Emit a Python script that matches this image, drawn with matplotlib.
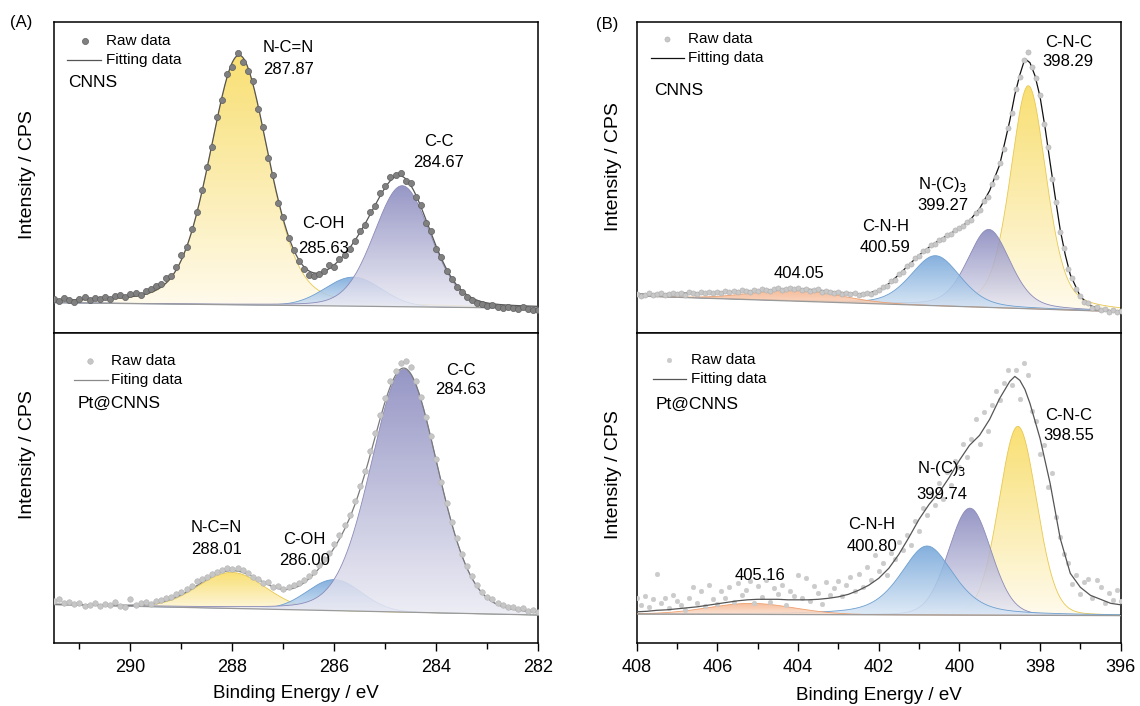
import numpy as np
import matplotlib
matplotlib.use("Agg")
import matplotlib.pyplot as plt
from matplotlib.colors import LinearSegmentedColormap

plt.rcParams['font.family'] = ['Liberation Sans', 'DejaVu Sans']

W, H = 1140, 706
fig = plt.figure(figsize=(W/100, H/100), dpi=100)

def ax_rect(x0, x1, ytop, ybot):
    return [x0/W, 1-ybot/H, (x1-x0)/W, (ybot-ytop)/H]

COLORS = {
    'yellow': ('#f8da5a', '#fffaea', '#e8c850'),
    'purple': ('#8484bc', '#ebebf4', '#8a8ab8'),
    'blue':   ('#6ea2d8', '#dbe8f6', '#6d9fd0'),
    'orange': ('#f4b088', '#fce6d6', '#f0a070'),
}

# ======================= DATA =======================
# --- C 1s, CNNS (panel A top) ---
c1s_cnns_bg = [30.0, 24.4]            # background at 291.5 eV and 282 eV
c1s_cnns_centers = [287.87, 285.63, 284.67]
c1s_cnns_heights = [249, 29, 121]
c1s_cnns_fwhm = [1.35, 1.3, 1.3]
c1s_cnns_eta = [0.28, 0.0, 0.15]
c1s_cnns_colors = ['yellow', 'blue', 'purple']
c1s_cnns_raw_start, c1s_cnns_raw_step = 291.5, -0.1
c1s_cnns_raw = [34, 32, 35, 33, 31, 34, 36, 33, 35, 34,
                36, 34, 37, 38, 36, 39, 40, 38, 42, 44,
                47, 49, 55, 57, 66, 78, 86, 104, 121, 143,
                166, 186, 216, 233, 259, 266, 280, 271, 262, 252,
                224, 206, 175, 158, 130, 116, 95, 83, 72, 64,
                58, 57, 59, 62, 68, 66, 74, 78, 84, 92,
                102, 108, 121, 127, 140, 147, 156, 158, 160, 152,
                150, 136, 128, 110, 102, 84, 76, 62, 54, 46,
                41, 36, 33, 30, 29, 27, 28, 26, 25, 26,
                25, 24, 26, 24, 23, 23]

# --- C 1s, Pt@CNNS (panel A bottom) ---
c1s_pt_bg = [38.7, 28.3]
c1s_pt_centers = [288.01, 286.00, 284.63]
c1s_pt_heights = [36, 31, 243]
c1s_pt_fwhm = [1.55, 1.25, 1.54]
c1s_pt_eta = [0.0, 0.0, 0.15]
c1s_pt_colors = ['yellow', 'blue', 'purple']
c1s_pt_raw_start, c1s_pt_raw_step = 291.5, -0.1
c1s_pt_raw = [42, 44, 40, 41, 39, 40, 37, 38, 40, 37,
              39, 38, 41, 37, 36, 44, 38, 40, 41, 39,
              42, 43, 45, 46, 49, 51, 54, 57, 62, 64,
              66, 69, 71, 73, 75, 74, 75, 73, 70, 66,
              64, 60, 61, 56, 57, 54, 56, 58, 60, 63,
              67, 71, 78, 84, 90, 99, 108, 118, 128, 142,
              157, 172, 192, 210, 228, 245, 262, 272, 280, 282,
              276, 262, 246, 226, 207, 184, 161, 140, 121, 105,
              89, 77, 67, 58, 51, 46, 44, 40, 38, 36,
              36, 34, 35, 32, 33, 31]

# --- N 1s, CNNS (panel B top) ---
n1s_cnns_bg = [36.7, 21.0]            # background at 408 eV and 396 eV
n1s_cnns_centers = [398.29, 399.27, 400.59, 404.05]
n1s_cnns_heights = [223, 78, 50, 11]
n1s_cnns_fwhm = [1.05, 1.25, 1.45, 2.6]
n1s_cnns_eta = [0.35, 0.3, 0.3, 0.0]
n1s_cnns_colors = ['yellow', 'purple', 'blue', 'orange']
n1s_cnns_fit_be = [408.0, 407.75, 407.5, 407.25, 407.0, 406.75, 406.5, 406.25, 406.0, 405.75,
                   405.5, 405.25, 405.0, 404.75, 404.5, 404.25, 404.0, 403.75, 403.5, 403.25,
                   403.0, 402.75, 402.5, 402.25, 402.0, 401.75, 401.5, 401.25, 401.0, 400.75,
                   400.5, 400.25, 400.0, 399.75, 399.5, 399.25, 399.0, 398.875, 398.75, 398.625,
                   398.5, 398.375, 398.25, 398.125, 398.0, 397.875, 397.75, 397.625, 397.5, 397.375,
                   397.25, 397.0, 396.75, 396.5, 396.25, 396.0]
n1s_cnns_fit = [38.5, 38.5, 38.8, 39, 39.3, 39.5, 39.8, 40, 40.3, 40.8,
                41.2, 41.6, 42, 42.6, 43.2, 43.6, 43.8, 43.4, 42.6, 41.5,
                40.5, 39.6, 39, 39.5, 42.5, 49, 58, 68, 77.5, 85.5,
                92.5, 98.5, 104.5, 112, 124, 142, 168, 190, 212, 238,
                258, 274, 270, 257, 236, 205, 170, 136, 103, 78,
                58, 36, 27, 23.5, 22, 21]
n1s_cnns_raw_start, n1s_cnns_raw_step = 408.0, -0.1
n1s_cnns_raw = [39, 37, 38, 40, 38, 39, 40, 38, 39, 40,
                39, 40, 38, 41, 40, 39, 41, 40, 41, 40,
                41, 40, 42, 41, 42, 41, 43, 42, 41, 43,
                42, 44, 43, 42, 44, 45, 43, 44, 45, 44,
                45, 43, 44, 42, 43, 44, 41, 42, 41, 40,
                41, 39, 40, 39, 40, 38, 39, 40, 39, 41,
                43, 46, 47, 52, 53, 59, 61, 67, 69, 75,
                77, 82, 83, 88, 89, 93, 94, 98, 99, 103,
                105, 107, 111, 113, 120, 123, 132, 136, 149, 156,
                170, 184, 205, 220, 244, 256, 273, 281, 266, 255,
                238, 209, 186, 154, 131, 101, 85, 64, 55, 44,
                37, 31, 30, 25, 26, 23, 24, 21, 23, 21,
                22]

# --- N 1s, Pt@CNNS (panel B bottom) ---
n1s_pt_bg = [29.3, 27.7]
n1s_pt_centers = [398.55, 399.74, 400.80, 405.16]
n1s_pt_heights = [189, 107, 69, 11]
n1s_pt_fwhm = [1.1, 1.24, 1.55, 2.5]
n1s_pt_eta = [0.1, 0.1, 0.5, 0.0]
n1s_pt_colors = ['yellow', 'purple', 'blue', 'orange']
n1s_pt_fit_be = [408.0, 407.75, 407.5, 407.25, 407.0, 406.75, 406.5, 406.25, 406.0, 405.75,
                 405.5, 405.25, 405.0, 404.75, 404.5, 404.25, 404.0, 403.75, 403.5, 403.25,
                 403.0, 402.75, 402.5, 402.25, 402.0, 401.75, 401.5, 401.25, 401.0, 400.75,
                 400.5, 400.25, 400.0, 399.75, 399.5, 399.25, 399.0, 398.75, 398.625, 398.5,
                 398.375, 398.25, 398.0, 397.75, 397.5, 397.25, 397.0, 396.75, 396.5, 396.25,
                 396.0]
n1s_pt_fit = [31.5, 32, 33, 33.5, 34.5, 35.5, 36.5, 38, 39.5, 41,
              42.5, 43.5, 44, 44, 44, 43.5, 43.5, 43.5, 44, 45,
              46.5, 49, 53, 58, 65, 75, 89, 106, 124, 139,
              151, 166, 183, 198, 208, 224, 245, 262, 267, 263,
              254, 240, 205, 160, 105, 70, 56, 48, 44, 40,
              38.5]
n1s_pt_raw_start, n1s_pt_raw_step = 408.0, -0.1
n1s_pt_raw = [45, 38, 47, 36, 44, 69, 40, 45, 35, 48,
              42, 38, 33, 45, 56, 40, 52, 37, 58, 44,
              39, 52, 45, 56, 41, 60, 48, 53, 62, 40,
              57, 46, 63, 41, 55, 49, 58, 38, 52, 47,
              68, 45, 65, 42, 57, 50, 39, 61, 48, 55,
              62, 47, 58, 66, 52, 69, 56, 76, 63, 88,
              72, 80, 68, 90, 84, 101, 93, 108, 98, 122,
              112, 135, 128, 150, 138, 160, 144, 171, 158, 182,
              176, 199, 186, 204, 224, 199, 231, 212, 238, 252,
              243, 260, 273, 258, 273, 244, 280, 268, 232, 222,
              189, 198, 156, 170, 126, 106, 89, 80, 59, 68,
              49, 61, 64, 45, 63, 56, 40, 50, 43, 53,
              42]

# ======================= DRAWING =======================
def pv(x, c, a, w, eta):
    d = (x - c) / w
    return a * ((1-eta)*np.exp(-4*np.log(2)*d*d) + eta/(1+4*d*d))

def grad_fill(ax, x, base, top, key, alpha=0.85, z=2):
    ctop, cbot, cline = COLORS[key]
    poly = ax.fill_between(x, base, top, facecolor='none', edgecolor='none')
    cmap = LinearSegmentedColormap.from_list('g', [cbot, ctop])
    grad = np.linspace(0, 1, 256).reshape(-1, 1)
    im = ax.imshow(grad, extent=[x.min(), x.max(), base.min(), top.max()],
                   origin='lower', cmap=cmap, aspect='auto', alpha=alpha, zorder=z)
    im.set_clip_path(poly.get_paths()[0], transform=ax.transData)
    ax.plot(x, top, color=cline, lw=0.6, zorder=z+0.1)

def draw_panel(ax, xlim, bg, centers, heights, fwhm, eta, colors,
               raw_start, raw_step, raw, raw_style, fit_color, fit=None, raw_on_top=True):
    x = np.linspace(xlim[0], xlim[1], 900)
    base = bg[0] + (bg[1]-bg[0]) * (x - xlim[0]) / (xlim[1] - xlim[0])
    total = base.copy()
    for i in range(len(centers)):
        p = pv(x, centers[i], heights[i], fwhm[i], eta[i])
        total += p
        grad_fill(ax, x, base, base + p, colors[i], z=2+i*0.2)
    ax.plot(x, base, color='#9a9a9a', lw=0.9, zorder=3)
    if fit is None:
        ax.plot(x, total, color=fit_color, lw=0.9, zorder=4)
    else:
        ax.plot(fit[0], fit[1], color=fit_color, lw=0.9, zorder=4)
    rx = raw_start + raw_step * np.arange(len(raw))
    ax.plot(rx, raw, 'o', ls='none', zorder=5 if raw_on_top else 3.5, **raw_style)
    ax.set_xlim(*xlim)
    ax.set_ylim(0, 310.7)
    ax.set_yticks([])
    for s in ax.spines.values():
        s.set_linewidth(1.1)

style_tl = dict(ms=4.4, mfc='#808080', mec='#5e5e5e', mew=0.5)
style_bl = dict(ms=4.0, mfc='#c6c6c6', mec='#b4b4b4', mew=0.4)
style_tr = dict(ms=3.7, mfc='#c8c8c8', mec='#b0b0b0', mew=0.4)
style_br = dict(ms=3.4, mfc='#cbcbcb', mec='#cbcbcb', mew=0.3)

axTL = fig.add_axes(ax_rect(54, 538.3, 22, 332.7))
axBL = fig.add_axes(ax_rect(54, 538.3, 332.7, 643.3))
axTR = fig.add_axes(ax_rect(636.7, 1120.7, 22, 332.7))
axBR = fig.add_axes(ax_rect(636.7, 1120.7, 332.7, 643.3))

draw_panel(axTL, (291.5, 282), c1s_cnns_bg, c1s_cnns_centers, c1s_cnns_heights,
           c1s_cnns_fwhm, c1s_cnns_eta, c1s_cnns_colors,
           c1s_cnns_raw_start, c1s_cnns_raw_step, c1s_cnns_raw, style_tl, '#555555')
draw_panel(axBL, (291.5, 282), c1s_pt_bg, c1s_pt_centers, c1s_pt_heights,
           c1s_pt_fwhm, c1s_pt_eta, c1s_pt_colors,
           c1s_pt_raw_start, c1s_pt_raw_step, c1s_pt_raw, style_bl, '#7a7a7a')
draw_panel(axTR, (408, 396), n1s_cnns_bg, n1s_cnns_centers, n1s_cnns_heights,
           n1s_cnns_fwhm, n1s_cnns_eta, n1s_cnns_colors,
           n1s_cnns_raw_start, n1s_cnns_raw_step, n1s_cnns_raw, style_tr, '#111111',
           fit=(n1s_cnns_fit_be, n1s_cnns_fit))
draw_panel(axBR, (408, 396), n1s_pt_bg, n1s_pt_centers, n1s_pt_heights,
           n1s_pt_fwhm, n1s_pt_eta, n1s_pt_colors,
           n1s_pt_raw_start, n1s_pt_raw_step, n1s_pt_raw, style_br, '#555555',
           fit=(n1s_pt_fit_be, n1s_pt_fit), raw_on_top=False)

for ax in (axTL, axTR):
    ax.set_xticks([])
for ax, major, minor in ((axBL, [290, 288, 286, 284, 282], [291, 289, 287, 285, 283]),
                         (axBR, [408, 406, 404, 402, 400, 398, 396], [407, 405, 403, 401, 399, 397])):
    ax.set_xticks(major)
    ax.set_xticks(minor, minor=True)
    ax.tick_params(axis='x', which='major', direction='out', length=6, width=1.0,
                   labelsize=13, pad=5)
    ax.tick_params(axis='x', which='minor', direction='out', length=4, width=1.0)

TXT = 12
def label(ax, name, val, x, y1, y2):
    if name:
        ax.text(x, y1, name, fontsize=TXT, ha='center', va='center', zorder=6)
    ax.text(x, y2, val, fontsize=TXT, ha='center', va='center', zorder=6)

topb, botb = 332.7, 643.3
label(axTL, 'N-C=N', '287.87', 286.9, topb-47, topb-69.5)
label(axTL, 'C-OH', '285.63', 286.21, topb-224, topb-248)
label(axTL, 'C-C', '284.67', 283.95, topb-141.7, topb-162.7)
label(axBL, 'C-C', '284.63', 283.52, botb-370, botb-389.3)
label(axBL, 'N-C=N', '288.01', 288.31, botb-527.3, botb-549.3)
label(axBL, 'C-OH', '286.00', 286.59, botb-539.3, botb-560.7)
label(axTR, 'C-N-C', '398.29', 397.3, topb-42.3, topb-61.7)
label(axTR, 'N-(C)$_3$', '399.27', 400.42, topb-184, topb-205.7)
label(axTR, 'C-N-H', '400.59', 401.84, topb-226.7, topb-247.3)
label(axTR, '', '404.05', 403.97, 0, topb-273.3)
label(axBR, 'C-N-C', '398.55', 397.28, botb-415, botb-435)
label(axBR, 'N-(C)$_3$', '399.74', 400.43, botb-468.3, botb-494)
label(axBR, 'C-N-H', '400.80', 402.17, botb-524, botb-546.7)
label(axBR, '', '405.16', 404.94, 0, botb-575)

def legend(ax, fitlabel, sample, yr, yf, ys, xm, xt, xl0, xl1, xs, mstyle, lcol):
    ax.plot([xm], [yr], 'o', zorder=6, clip_on=False, **mstyle)
    ax.text(xt, yr, 'Raw data', fontsize=11, va='center', ha='left', zorder=6)
    ax.plot([xl0, xl1], [yf, yf], color=lcol, lw=0.9, zorder=6)
    ax.text(xt, yf, fitlabel, fontsize=11, va='center', ha='left', zorder=6)
    ax.text(xs, ys, sample, fontsize=12.5, va='center', ha='left', zorder=6)

legend(axTL, 'Fitting data', 'CNNS', topb-40.7, topb-60, topb-82.7, 290.89, 290.48, 291.25, 290.58, 291.22, style_tl, '#555555')
legend(axBL, 'Fiting data', 'Pt@CNNS', botb-361, botb-380, botb-403.3, 290.8, 290.38, 291.1, 290.44, 291.03, style_bl, '#8a8a8a')
legend(axTR, 'Fitting data', 'CNNS', topb-39, topb-58, topb-90.7, 407.24, 406.72, 407.65, 406.82, 407.57, style_tr, '#111111')
legend(axBR, 'Fitting data', 'Pt@CNNS', botb-360, botb-379, botb-404.3, 407.19, 406.65, 407.6, 406.78, 407.53, style_br, '#555555')

for (x, y) in ((27.6, 175), (27.6, 455), (613.5, 166.7), (613.5, 475)):
    fig.text(x/W, 1-y/H, 'Intensity / CPS', rotation=90, fontsize=14, ha='center', va='center')
fig.text(296/W, 1-693/H, 'Binding Energy / eV', fontsize=13.5, ha='center', va='center')
fig.text(878.7/W, 1-696/H, 'Binding Energy / eV', fontsize=13.5, ha='center', va='center')
fig.text(21/W, 1-22/H, '(A)', fontsize=12, ha='center', va='center')
fig.text(607/W, 1-24/H, '(B)', fontsize=12, ha='center', va='center')

fig.savefig('out.png', dpi=100)
